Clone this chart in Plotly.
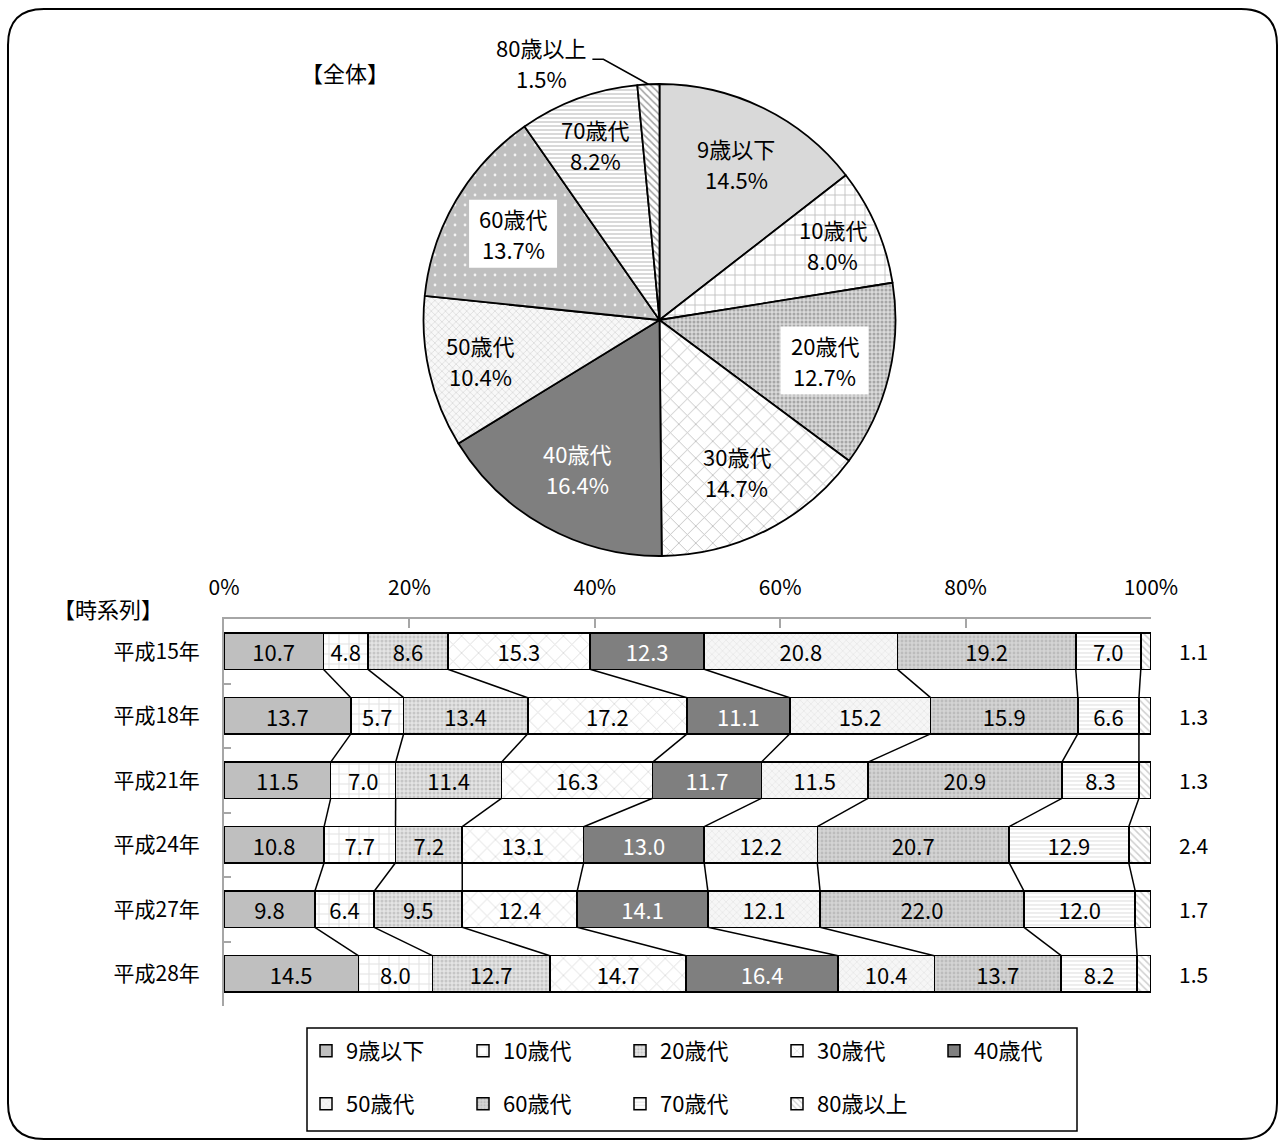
import math
import plotly.graph_objects as go

W, H = 1286, 1147
FONT = "Noto Sans CJK JP"

# ---------------- data ----------------
groups = ["9歳以下", "10歳代", "20歳代", "30歳代", "40歳代", "50歳代", "60歳代", "70歳代", "80歳以上"]
pie_values = [14.5, 8.0, 12.7, 14.7, 16.4, 10.4, 13.7, 8.2, 1.5]

years = ["平成15年", "平成18年", "平成21年", "平成24年", "平成27年", "平成28年"]
v_9 = [10.7, 13.7, 11.5, 10.8, 9.8, 14.5]
v_10 = [4.8, 5.7, 7.0, 7.7, 6.4, 8.0]
v_20 = [8.6, 13.4, 11.4, 7.2, 9.5, 12.7]
v_30 = [15.3, 17.2, 16.3, 13.1, 12.4, 14.7]
v_40 = [12.3, 11.1, 11.7, 13.0, 14.1, 16.4]
v_50 = [20.8, 15.2, 11.5, 12.2, 12.1, 10.4]
v_60 = [19.2, 15.9, 20.9, 20.7, 22.0, 13.7]
v_70 = [7.0, 6.6, 8.3, 12.9, 12.0, 8.2]
v_80 = [1.1, 1.3, 1.3, 2.4, 1.7, 1.5]
series = [v_9, v_10, v_20, v_30, v_40, v_50, v_60, v_70, v_80]

x_ticks = [0, 20, 40, 60, 80, 100]
x_tick_labels = ["0%", "20%", "40%", "60%", "80%", "100%"]

# ---------------- styles ----------------
def pat(shape="", fg="#000000", bg="#ffffff", size=8, solidity=0.3):
    return dict(shape=shape, fgcolor=fg, bgcolor=bg, size=size, solidity=solidity)

bar_styles = [
    ("#bfbfbf", pat("", "#bfbfbf", "#bfbfbf")),
    ("#ffffff", pat("+", "#bdbdbd", "#ffffff", 10, 0.17)),
    ("#d0d0d0", pat(".", "#a8a8a8", "#e4e4e4", 4, 0.45)),
    ("#ffffff", pat("x", "#bdbdbd", "#ffffff", 12, 0.15)),
    ("#7f7f7f", pat("", "#7f7f7f", "#7f7f7f")),
    ("#f2f2f2", pat("x", "#d6d6d6", "#f6f6f6", 5, 0.25)),
    ("#c8c8c8", pat(".", "#a4a4a4", "#d4d4d4", 4, 0.4)),
    ("#ffffff", pat("-", "#c4c4c4", "#ffffff", 4, 0.3)),
    ("#ffffff", pat("\\", "#a0a0a0", "#ffffff", 5, 0.3)),
]
pie_styles = [
    ("#d9d9d9", pat("", "#d9d9d9", "#d9d9d9")),
    ("#ffffff", pat("+", "#c0c0c0", "#ffffff", 10, 0.17)),
    ("#c8c8c8", pat(".", "#a6a6a6", "#dadada", 4, 0.45)),
    ("#ffffff", pat("x", "#bdbdbd", "#ffffff", 12, 0.14)),
    ("#7f7f7f", pat("", "#7f7f7f", "#7f7f7f")),
    ("#f0f0f0", pat("x", "#d6d6d6", "#f8f8f8", 5, 0.25)),
    ("#bfbfbf", pat(".", "#f4f4f4", "#bfbfbf", 10, 0.06)),
    ("#ffffff", pat("-", "#c0c0c0", "#ffffff", 4, 0.3)),
    ("#ffffff", pat("\\", "#a0a0a0", "#ffffff", 5, 0.3)),
]
text_colors = ["black"] * 9
text_colors[4] = "white"


def px(x):
    return x / W


def py(y):
    return 1 - y / H


fig = go.Figure()

# ---------------- pie ----------------
PCX, PCY, PR = 659.5, 320.0, 236.0
fig.add_trace(go.Pie(
    labels=groups, values=pie_values, sort=False, direction="clockwise", rotation=0,
    textinfo="none", hoverinfo="label+percent", showlegend=False,
    domain=dict(x=[px(PCX - PR), px(PCX + PR)], y=[py(PCY + PR), py(PCY - PR)]),
    marker=dict(
        colors=[s[0] for s in pie_styles],
        line=dict(color="black", width=1.8),
        pattern=dict(
            shape=[s[1]["shape"] for s in pie_styles],
            fgcolor=[s[1]["fgcolor"] for s in pie_styles],
            bgcolor=[s[1]["bgcolor"] for s in pie_styles],
            size=[s[1]["size"] for s in pie_styles],
            solidity=[s[1]["solidity"] for s in pie_styles],
        ),
    ),
))

# ---------------- bars ----------------
for i, (name, vals) in enumerate(zip(groups, series)):
    color, p = bar_styles[i]
    last = i == len(groups) - 1
    fig.add_trace(go.Bar(
        y=years, x=vals, orientation="h", name=name, width=0.56,
        marker=dict(color=color, line=dict(color="black", width=1.5), pattern=p),
        text=None if last else [f"{v:.1f}" for v in vals],
        textposition="none" if last else "inside",
        insidetextanchor="middle", textangle=0, constraintext="none",
        textfont=dict(family=FONT, size=22, color=text_colors[i]),
        legend="legend" if i < 5 else "legend2",
        xaxis="x", yaxis="y",
    ))

layout_shapes = []
annotations = []

# connectors between bars (from normalised cumulative sums)
rows = list(zip(*series))
cums = []
for r in rows:
    tot = sum(r)
    c, acc = [], 0.0
    for v in r[:-1]:
        acc += v
        c.append(100 * acc / tot)
    cums.append(c)
HALF = 0.28
for j in range(len(years) - 1):
    for k in range(len(groups) - 1):
        layout_shapes.append(dict(
            type="line", xref="x", yref="y",
            x0=cums[j][k], y0=j + HALF, x1=cums[j + 1][k], y1=j + 1 - HALF,
            line=dict(color="black", width=1.5), layer="above",
        ))

# 80+ values outside bars
for yr, v in zip(years, v_80):
    annotations.append(dict(
        x=100, y=yr, xref="x", yref="y", text=f"{v:.1f}", showarrow=False,
        xanchor="left", yanchor="middle", xshift=26,
        font=dict(family=FONT, size=21, color="black"),
    ))

# pie labels
total = sum(pie_values)
label_r = [0.74, 0.80, 0.72, 0.72, 0.72, 0.78, 0.72, 0.79]
boxed = {2, 6}
LINE_GAP = 15.5
acc = 0.0
mids = []
for v in pie_values:
    mids.append((acc + v / 2) / total * 2 * math.pi)
    acc += v


def label_pair(X, Y, l1, l2, color):
    for txt, dy in ((l1, -LINE_GAP), (l2, LINE_GAP)):
        annotations.append(dict(
            x=px(X), y=py(Y + dy), xref="paper", yref="paper", showarrow=False,
            xanchor="center", yanchor="middle", text=txt,
            font=dict(family=FONT, size=22, color=color),
        ))


for i in range(len(groups) - 1):
    th = mids[i]
    X = PCX + label_r[i] * PR * math.sin(th)
    Y = PCY - label_r[i] * PR * math.cos(th)
    if i in boxed:
        layout_shapes.append(dict(
            type="rect", xref="paper", yref="paper", xsizemode="pixel", ysizemode="pixel",
            xanchor=px(X), yanchor=py(Y), x0=-44, x1=44, y0=-34, y1=34,
            fillcolor="white", line=dict(width=0), layer="above",
        ))
    label_pair(X, Y, groups[i], f"{pie_values[i]:.1f}%", text_colors[i])

# 80+ label with leader line
th = mids[-1]
EX = PCX + PR * math.sin(th)
EY = PCY - PR * math.cos(th)
label_pair(EX - 107, EY - 22, groups[-1], f"{pie_values[-1]:.1f}%", "black")
layout_shapes.append(dict(
    type="path", xref="paper", yref="paper",
    path=f"M{px(EX - 56)},{py(EY - 25)} L{px(EX - 45)},{py(EY - 25)} L{px(EX)},{py(EY)}",
    line=dict(color="black", width=1.5), layer="above",
))

# titles
annotations.append(dict(x=px(345), y=py(72), xref="paper", yref="paper", showarrow=False,
                        xanchor="center", yanchor="middle",
                        text="【全体】", font=dict(family=FONT, size=22, color="black")))
annotations.append(dict(x=px(108), y=py(608), xref="paper", yref="paper", showarrow=False,
                        xanchor="center", yanchor="middle",
                        text="【時系列】", font=dict(family=FONT, size=22, color="black")))

# legend box
layout_shapes.append(dict(type="rect", xref="paper", yref="paper",
                          x0=px(307), x1=px(1077), y0=py(1131), y1=py(1028),
                          line=dict(color="black", width=1.5)))

# outer rounded frame
x0, y0, x1, y1, rr = 8, 9, 1277, 1139, 36
P = lambda x, y: f"{px(x):.5f},{py(y):.5f}"
frame = (f"M{P(x0 + rr, y0)} L{P(x1 - rr, y0)} Q{P(x1, y0)} {P(x1, y0 + rr)} "
         f"L{P(x1, y1 - rr)} Q{P(x1, y1)} {P(x1 - rr, y1)} L{P(x0 + rr, y1)} "
         f"Q{P(x0, y1)} {P(x0, y1 - rr)} L{P(x0, y0 + rr)} Q{P(x0, y0)} {P(x0 + rr, y0)} Z")
layout_shapes.append(dict(type="path", xref="paper", yref="paper", path=frame,
                          line=dict(color="black", width=2)))

legend_common = dict(orientation="h", xanchor="left", yanchor="middle",
                     traceorder="normal", entrywidth=112, entrywidthmode="pixels",
                     font=dict(family=FONT, size=22, color="black"),
                     bgcolor="rgba(0,0,0,0)", itemclick=False, itemdoubleclick=False)

fig.update_layout(
    width=W, height=H, autosize=False,
    margin=dict(l=0, r=0, t=0, b=0, pad=0, autoexpand=False),
    paper_bgcolor="white", plot_bgcolor="white",
    font=dict(family=FONT, size=21, color="black"),
    barmode="stack", barnorm="percent",
    showlegend=True,
    legend=dict(x=px(306), y=py(1051), **legend_common),
    legend2=dict(x=px(306), y=py(1104), **legend_common),
    xaxis=dict(domain=[px(224), px(1151)], range=[0, 100], side="top",
               tickvals=x_ticks, ticktext=x_tick_labels, ticks="inside", ticklen=9,
               tickwidth=2, tickcolor="#a6a6a6", showline=True, linecolor="#a6a6a6",
               linewidth=2, showgrid=False, zeroline=False, ticklabelstandoff=14,
               tickfont=dict(family=FONT, size=21, color="black"), fixedrange=True),
    yaxis=dict(domain=[py(1006), py(619)], type="category", categoryorder="array",
               categoryarray=years, autorange="reversed", ticks="inside", ticklen=7,
               tickwidth=2, tickcolor="#a6a6a6", tickson="boundaries", showline=True,
               linecolor="#a6a6a6", linewidth=2, showgrid=False, zeroline=False,
               ticklabelstandoff=18, tickfont=dict(family=FONT, size=21, color="black"),
               fixedrange=True),
    shapes=layout_shapes,
    annotations=annotations,
)

fig.write_html("out.html", config={"displayModeBar": False},
               post_script="document.body.style.margin='0px';document.body.style.overflow='hidden';")
